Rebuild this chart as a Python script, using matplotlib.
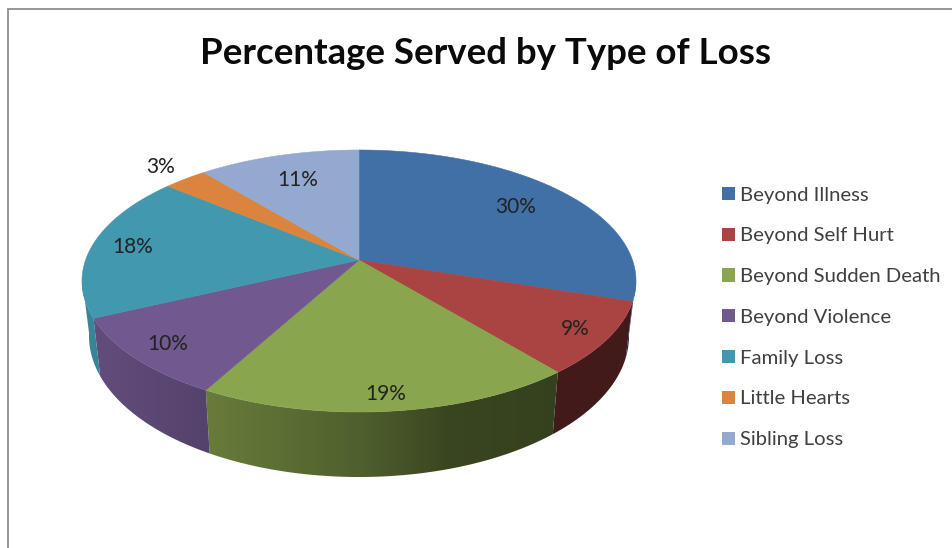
import numpy as np
import matplotlib
matplotlib.use("Agg")
import matplotlib.pyplot as plt
from matplotlib.patches import Polygon, Patch
from matplotlib.colors import to_rgb

categories = ["Beyond Illness", "Beyond Self Hurt", "Beyond Sudden Death", "Beyond Violence",
              "Family Loss", "Little Hearts", "Sibling Loss"]
percent = [30, 9, 19, 10, 18, 3, 11]
colors = ["#4170A6", "#A94442", "#89A54E", "#71588F", "#4198AF", "#DB843D", "#93A9CF"]
title = "Percentage Served by Type of Loss"

# label placement as fraction of radius along each slice's mid-angle
label_r = [0.76, 0.88, 0.90, 0.87, 0.85, 1.16, 0.74]

CX, CY, RX, RY, A = 359, 281, 277, 131, 0.16
CY_B, RX_B, RY_B = 336, 270, 141
SHADE_X = [82, 210, 359, 450, 560, 636]
SHADE_F = [0.88, 0.75, 0.58, 0.42, 0.39, 0.39]


def unit(theta, r=1.0):
    c = r * np.cos(theta)
    s = r * np.sin(theta)
    d = 1 + A * c
    return s * np.sqrt(1 - A ** 2) / d, (c + A) / d


def project(theta, r=1.0):
    """Clockwise-from-top slice angle to pixel position on the tilted disc."""
    u, v = unit(theta, r)
    return CX + RX * u, CY - RY * v


def project_bottom(theta):
    u, v = unit(theta)
    return CX + RX_B * u, CY_B - RY_B * v


fig = plt.figure(figsize=(9.52, 5.48), dpi=100, facecolor="white")
ax = fig.add_axes([0, 0, 1, 1])
ax.axis("off")

# window border
ax.plot([8, 8, 952], [548, 9, 9], color="#8f8f8f", lw=1.3, solid_joinstyle="miter")

edges = np.cumsum([0] + percent) / sum(percent) * 2 * np.pi

# side wall: horizontal gradient clipped to each slice's outer wall
grad_x = np.linspace(70, 650, 290)
for i, col in enumerate(colors):
    th = np.linspace(edges[i], edges[i + 1], 160)
    th = th[unit(th)[1] < 0.02]
    if len(th) < 2:
        continue
    xt, yt = project(th)
    xb, yb = project_bottom(th)
    wall = Polygon(np.vstack([np.column_stack([xt, yt]), np.column_stack([xb, yb])[::-1]]),
                   closed=True, facecolor="none", edgecolor="none", transform=ax.transData)
    ax.add_patch(wall)
    rgb = np.array(to_rgb(col))
    img = np.outer(np.interp(grad_x, SHADE_X, SHADE_F), rgb)[None, :, :]
    im = ax.imshow(img, extent=(70, 650, 490, 270), aspect="auto", zorder=2, interpolation="bilinear")
    im.set_clip_path(wall)

# top face
apex = project(np.array(0.0), 0.0)
for i, col in enumerate(colors):
    th = np.linspace(edges[i], edges[i + 1], 120)
    x, y = project(th)
    pts = np.vstack([[apex[0], apex[1]], np.column_stack([x, y])])
    ax.add_patch(Polygon(pts, closed=True, facecolor=col, edgecolor=col, lw=0.4, zorder=3))

# data labels
for i, v in enumerate(percent):
    mid = (edges[i] + edges[i + 1]) / 2
    lx, ly = project(mid, label_r[i])
    ax.text(lx, ly, f"{v}%", ha="center", va="center", fontsize=15,
            family="Lato", color="#222222", zorder=4)

ax.text(486, 53, title, ha="center", va="center", fontsize=26.4, family="Lato",
        fontweight="bold", color="#0a0a0a")

handles = [Patch(facecolor=c, edgecolor=c, lw=0) for c in colors]
ax.legend(handles, categories, loc="upper left", bbox_to_anchor=(722 / 952, 1 - 186.5 / 548),
          frameon=False, prop={"family": "Lato", "size": 14.6}, labelcolor="#404040",
          handlelength=0.62, handleheight=0.62, handletextpad=0.27, labelspacing=1.173,
          borderpad=0, borderaxespad=0)

ax.set_xlim(0, 952)
ax.set_ylim(548, 0)

fig.savefig("out.png", dpi=100, facecolor="white")
